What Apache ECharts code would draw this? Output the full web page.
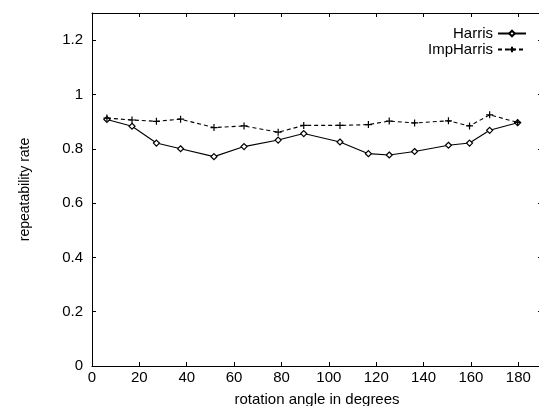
<!DOCTYPE html>
<html><head><meta charset="utf-8">
<script src="https://cdn.jsdelivr.net/npm/echarts@6/dist/echarts.min.js"></script>
<style>html,body{margin:0;padding:0;background:#fff}#c{width:539px;height:406px}</style>
</head><body><div id="c"></div>
<script>
const angles = [6.3, 16.9, 27.2, 37.4, 51.5, 64.2, 78.6, 89.4, 104.7, 116.7, 125.5, 136.2, 150.5, 159.4, 167.9, 179.7];
const harris = [0.908, 0.883, 0.821, 0.800, 0.771, 0.808, 0.832, 0.856, 0.825, 0.782, 0.777, 0.790, 0.813, 0.821, 0.868, 0.896];
const impHarris = [0.913, 0.906, 0.901, 0.909, 0.878, 0.884, 0.861, 0.886, 0.886, 0.889, 0.902, 0.895, 0.903, 0.884, 0.925, 0.897];
const seriesNames = ['Harris', 'ImpHarris'];
const xTitle = 'rotation angle in degrees';
const yTitle = 'repeatability rate';

const font = 'Liberation Sans, Arial, Helvetica, sans-serif';
const black = '#000';
const chart = echarts.init(document.getElementById('c'));
const plus = 'path://M0,5L10,5M5,0L5,10';
chart.setOption({
  animation: false,
  backgroundColor: '#fff',
  textStyle: {fontFamily: font, color: black},
  grid: {left: 92, top: 13, right: -3, bottom: 40, containLabel: false, outerBoundsMode: 'none'},
  legend: [
    {data: [seriesNames[0]], right: 12, top: 26, align: 'right', itemWidth: 28, itemHeight: 7,
     textStyle: {fontSize: 15, color: black, fontFamily: font}, padding: 0},
    {data: [seriesNames[1]], right: 12, top: 42, align: 'right', itemWidth: 28, itemHeight: 7,
     textStyle: {fontSize: 15, color: black, fontFamily: font}, padding: 0}
  ],
  xAxis: [{
    type: 'value', min: 0, max: 190, interval: 20,
    name: xTitle, nameLocation: 'middle', nameGap: 26,
    nameTextStyle: {fontSize: 15, color: black, fontFamily: font},
    axisLine: {show: true, onZero: false, lineStyle: {color: black, width: 1}},
    axisTick: {show: true, inside: true, length: 4, lineStyle: {color: black}},
    axisLabel: {margin: 4, fontSize: 15, color: black, fontFamily: font, showMaxLabel: false},
    splitLine: {show: false}
  }, {
    type: 'value', min: 0, max: 190, interval: 20, position: 'top',
    axisLine: {show: true, onZero: false, lineStyle: {color: black, width: 1}},
    axisTick: {show: true, inside: true, length: 4, lineStyle: {color: black}},
    axisLabel: {show: false}, splitLine: {show: false}
  }],
  yAxis: [{
    type: 'value', min: 0, max: 1.3, interval: 0.2,
    name: yTitle, nameLocation: 'middle', nameGap: 60, nameRotate: 90,
    nameTextStyle: {fontSize: 14, color: black, fontFamily: font},
    axisLine: {show: true, onZero: false, lineStyle: {color: black, width: 1}},
    axisTick: {show: true, inside: true, length: 4, lineStyle: {color: black}},
    axisLabel: {margin: 9, fontSize: 15, color: black, fontFamily: font, showMaxLabel: false,
      formatter: v => String(Math.round(v * 10) / 10)},
    splitLine: {show: false}
  }, {
    type: 'value', min: 0, max: 1.3, interval: 0.2, position: 'right',
    axisLine: {show: true, onZero: false, lineStyle: {color: black, width: 1}},
    axisTick: {show: true, inside: true, length: 4, lineStyle: {color: black}},
    axisLabel: {show: false}, splitLine: {show: false}
  }],
  series: [{
    name: seriesNames[0], type: 'line',
    data: angles.map((a, i) => [a, harris[i]]),
    symbol: 'diamond', symbolSize: 6,
    itemStyle: {color: '#fff', borderColor: black, borderWidth: 1.2},
    lineStyle: {color: black, width: 1.1, type: 'solid'}
  }, {
    name: seriesNames[1], type: 'line',
    data: angles.map((a, i) => [a, impHarris[i]]),
    symbol: plus, symbolSize: 7,
    itemStyle: {color: 'none', borderColor: black, borderWidth: 1.2},
    lineStyle: {color: black, width: 1.1, type: [4, 3]}
  }]
});
</script></body></html>
